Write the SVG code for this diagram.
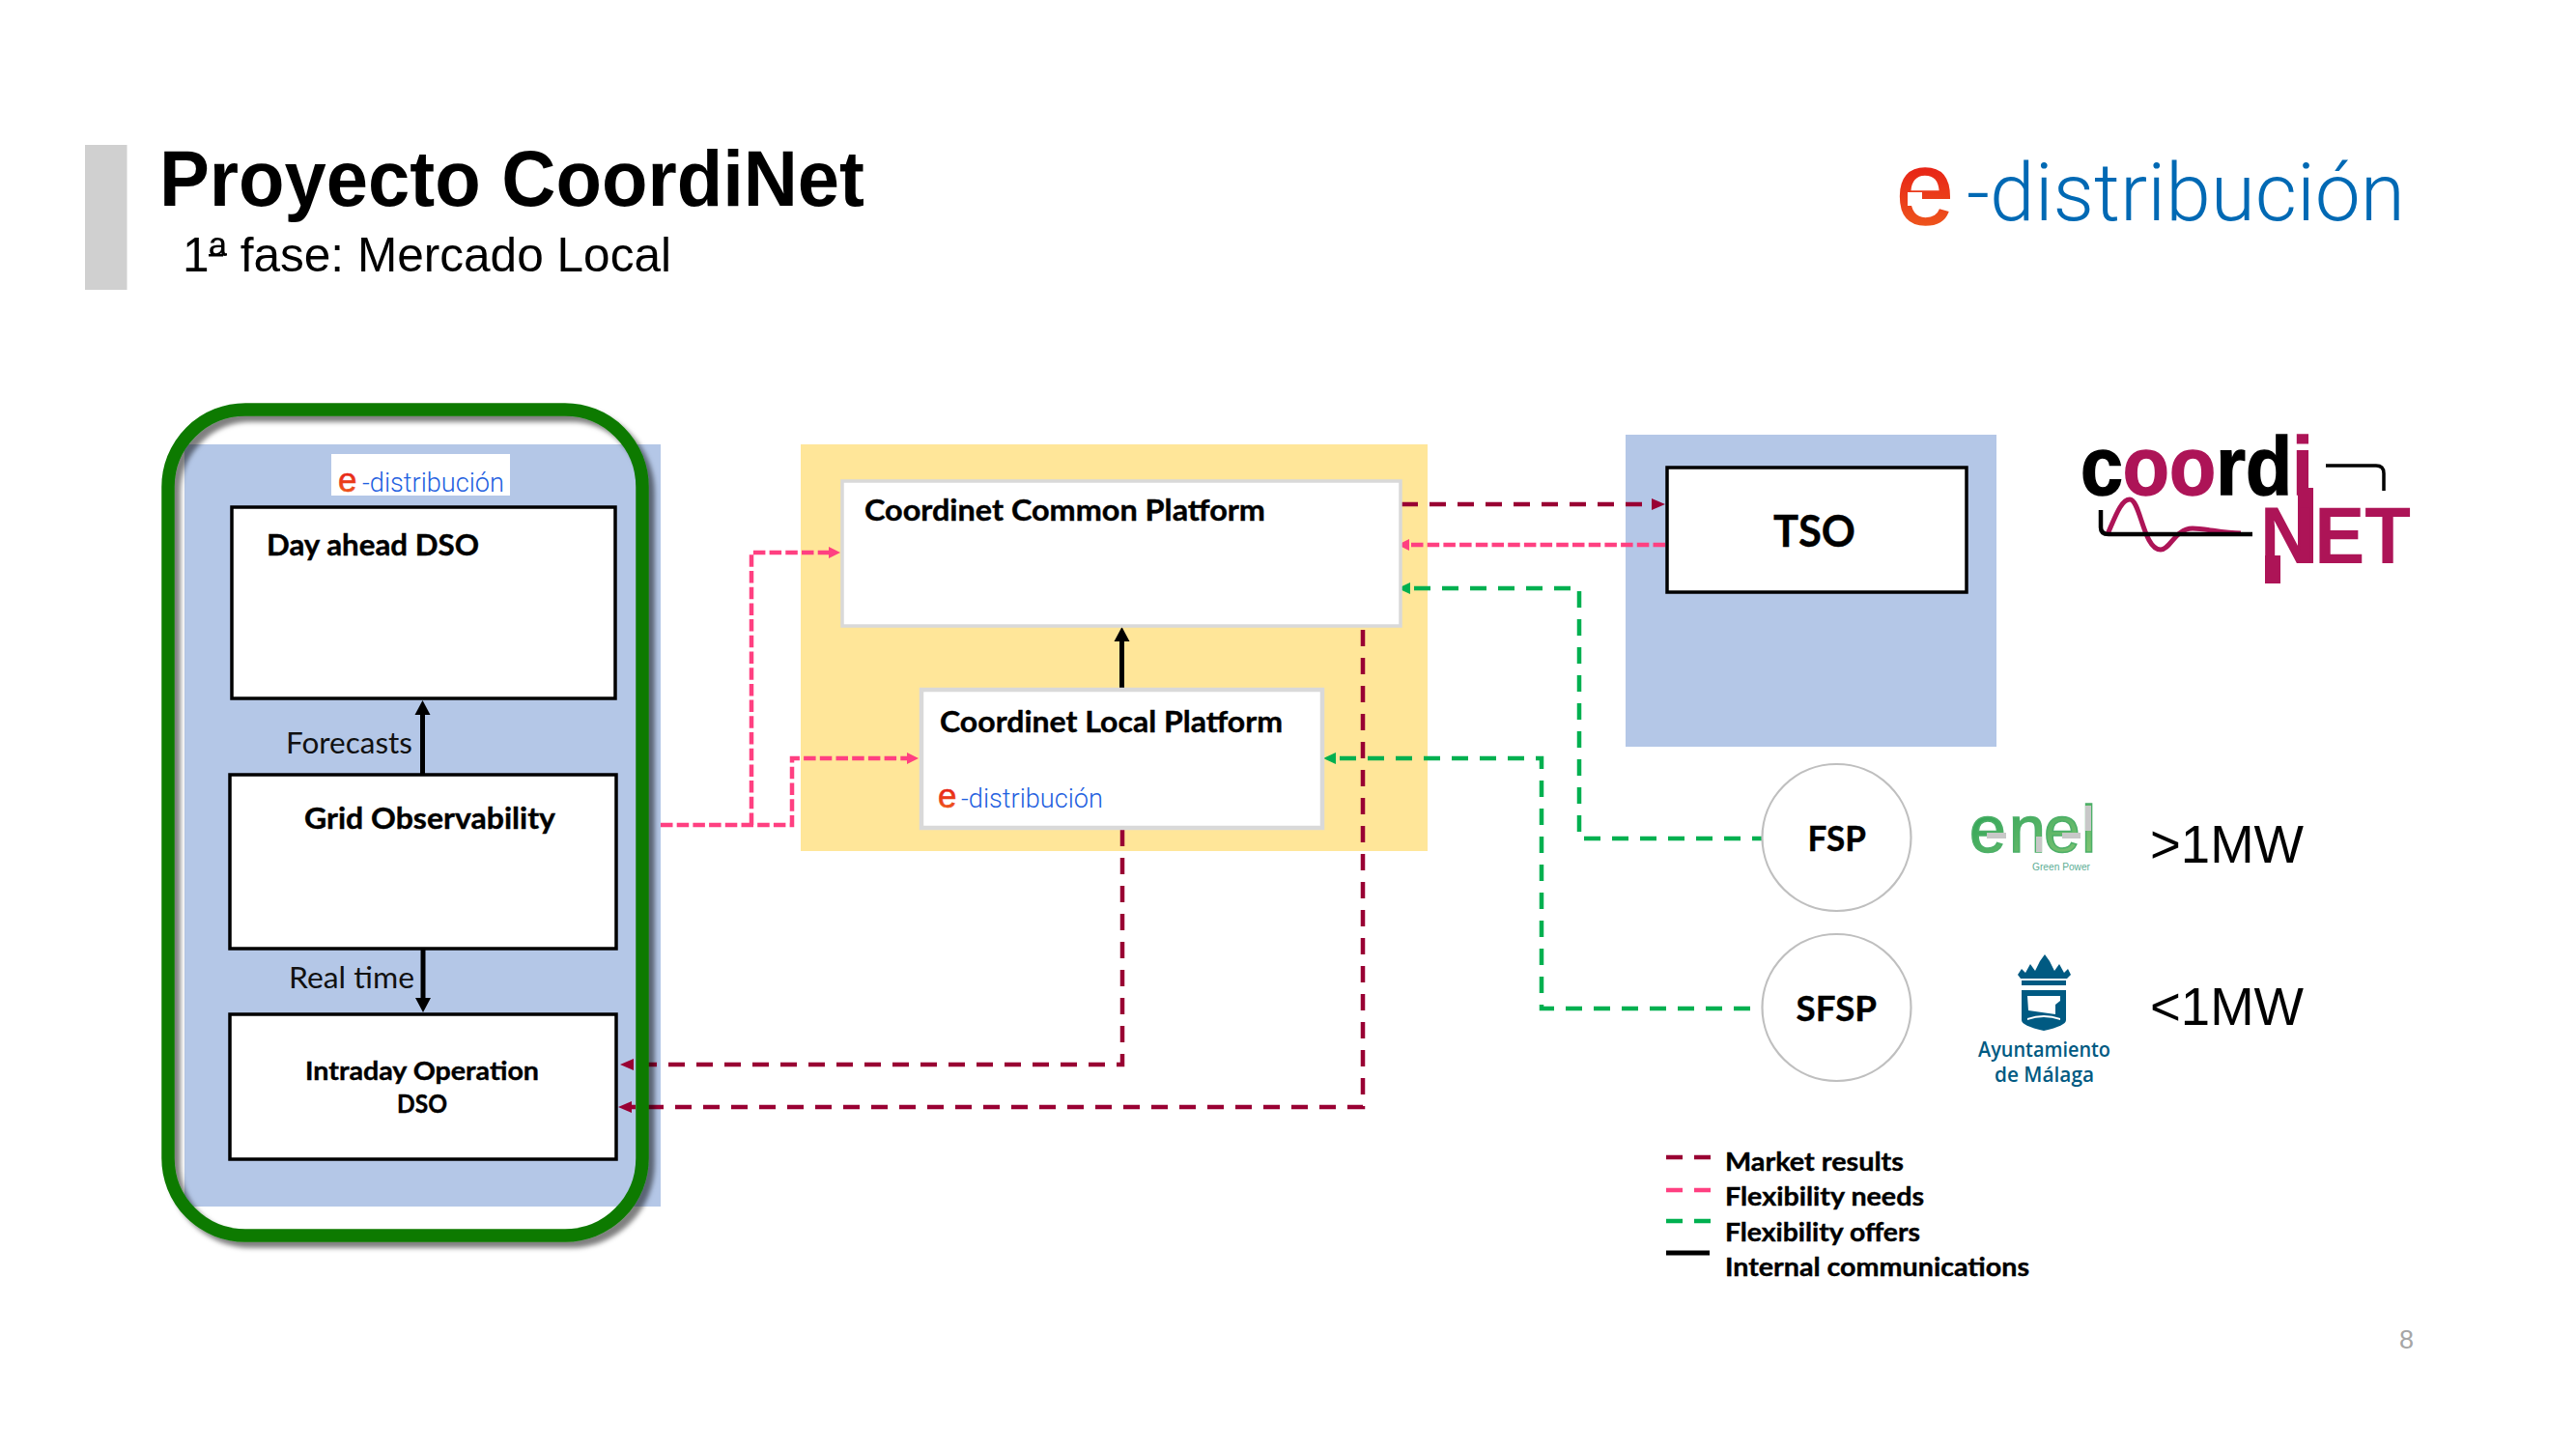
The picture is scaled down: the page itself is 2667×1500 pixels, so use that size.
<svg xmlns="http://www.w3.org/2000/svg" width="2667" height="1500" viewBox="0 0 2667 1500">
<style>
.s{font-family:"Liberation Sans",Arial,sans-serif}
.l{font-family:Lato,"Liberation Sans",sans-serif;font-weight:700;fill:#000;stroke:#000;stroke-width:.4}
.r{font-family:Lato,"Liberation Sans",sans-serif;font-weight:400;fill:#111}
.box{fill:#fff;stroke:#000;stroke-width:3.5}
.gbox{fill:#fff;stroke:#D9D9D9}
.panel-blue{fill:#B4C7E7}
.panel-yellow{fill:#FFE699}
.circ{fill:#fff;stroke:#BFBFBF;stroke-width:2.2}
.mr,.fn,.fo{fill:none;stroke-width:4.5}
.mr{stroke:#990033;stroke-dasharray:17 12}
.fn{stroke:#FF4081;stroke-dasharray:12.5 4.2}
.fo{stroke:#00B050;stroke-dasharray:17 12}
.ic{fill:none;stroke:#000;stroke-width:5}
.ed{font-family:Roboto,"Liberation Sans",sans-serif;font-weight:300}
.logo{font-family:"Liberation Sans",Arial,sans-serif;font-weight:700}
.m{fill:#AD1457}
</style>
<defs>
<marker id="aR" markerUnits="userSpaceOnUse" markerWidth="16" markerHeight="14" refX="2" refY="7" orient="auto"><path d="M0,1 L14,7 L0,13 z" fill="#990033"/></marker>
<marker id="aP" markerUnits="userSpaceOnUse" markerWidth="14" markerHeight="14" refX="2" refY="7" orient="auto"><path d="M0,1 L12,7 L0,13 z" fill="#FF4081"/></marker>
<marker id="aG" markerUnits="userSpaceOnUse" markerWidth="15" markerHeight="14" refX="2" refY="7" orient="auto"><path d="M0,1 L13,7 L0,13 z" fill="#00B050"/></marker>
<marker id="aK" markerUnits="userSpaceOnUse" markerWidth="17" markerHeight="18" refX="2" refY="9" orient="auto"><path d="M0,1 L15,9 L0,17 z" fill="#000"/></marker>
<linearGradient id="eg" x1="0" y1="0" x2="0" y2="1"><stop offset="0" stop-color="#E30613"/><stop offset="1" stop-color="#F0641E"/></linearGradient>
<linearGradient id="en" x1="0" y1="0" x2="1" y2="1"><stop offset="0" stop-color="#1E9E50"/><stop offset="1" stop-color="#8CC878"/></linearGradient>
<filter id="sh" x="-10%" y="-10%" width="120%" height="120%"><feDropShadow dx="6" dy="6" stdDeviation="2.5" flood-color="#000" flood-opacity="0.5"/></filter>
</defs>
<rect width="2667" height="1500" fill="#fff"/>

<g id="header">
<rect x="88" y="150" width="43.500" height="150" fill="#D0D0D0"/>
<text class="s" x="165" y="213" font-size="81" font-weight="700" textLength="730" lengthAdjust="spacingAndGlyphs">Proyecto CoordiNet</text>
<text class="s" x="189" y="281" font-size="50" textLength="506" lengthAdjust="spacingAndGlyphs">1ª fase: Mercado Local</text>
<rect x="216" y="263" width="15" height="2.500" fill="#000"/>
</g>
<g id="logo-e-distribucion">
<text class="s" x="1963" y="232" font-size="108" font-weight="400" fill="url(#eg)" stroke="url(#eg)" stroke-width="1.500">e</text>
<rect x="1975" y="199" width="15" height="14" fill="#fff"/>
<text class="ed" x="2036" y="228" font-size="83" fill="#0069B4" textLength="454" lengthAdjust="spacingAndGlyphs">-distribución</text>
</g>

<g id="panels">
<rect class="panel-blue" x="191" y="460" width="493" height="789"/>
<rect class="panel-yellow" x="829" y="460" width="649" height="421"/>
<rect class="panel-blue" x="1683" y="450" width="384" height="323"/>
</g>

<g id="connectors">
<path class="fn" d="M684,854 H820 V785 H941" marker-end="url(#aP)"/>
<path class="fn" d="M778,854 V572 H860" marker-end="url(#aP)"/>
<path class="mr" d="M1451,522 H1712" marker-end="url(#aR)"/>
<path class="fn" d="M1724,564 H1457" marker-end="url(#aP)"/>
<path class="fo" d="M1824,868 H1635 V609 H1458" marker-end="url(#aG)" stroke-dashoffset="7"/>
<path class="fo" d="M1824,1044 H1596 V785 H1381" marker-end="url(#aG)" stroke-dashoffset="17"/>
<path class="mr" d="M1162,859 V1102 H654" marker-end="url(#aR)"/>
<path class="mr" d="M1411,652 V1146 H652" marker-end="url(#aR)"/>
<path class="ic" d="M437.500,802 V738" marker-end="url(#aK)"/>
<path class="ic" d="M438,982 V1035" marker-end="url(#aK)"/>
<path class="ic" d="M1161.500,714 V662" marker-end="url(#aK)"/>
</g>

<g id="dso-frame">
<rect x="174" y="424" width="491" height="855" rx="80" ry="80" fill="none" stroke="#0F7A03" stroke-width="13.500" filter="url(#sh)"/>
</g>

<g id="dso-logo">
<rect x="343" y="470" width="185" height="43" fill="#fff"/>
<text class="s" x="350" y="509" font-size="35" fill="url(#eg)" stroke="url(#eg)" stroke-width=".6">e</text>
<text class="ed" x="375" y="509" font-size="27" fill="#1F5FE0" textLength="147" lengthAdjust="spacingAndGlyphs">-distribución</text>
</g>

<g id="day-ahead">
<rect class="box" x="240" y="525" width="397" height="198"/>
<text class="l" x="276" y="575" font-size="30" textLength="220" lengthAdjust="spacingAndGlyphs">Day ahead DSO</text>
</g>
<g id="grid-observability">
<rect class="box" x="238" y="802" width="400" height="180"/>
<text class="l" x="315" y="858" font-size="30" textLength="260" lengthAdjust="spacingAndGlyphs">Grid Observability</text>
</g>
<g id="intraday">
<rect class="box" x="238" y="1050" width="400" height="150"/>
<text class="l" x="316" y="1118" font-size="27" textLength="242" lengthAdjust="spacingAndGlyphs">Intraday Operation</text>
<text class="l" x="411" y="1152" font-size="27" textLength="52" lengthAdjust="spacingAndGlyphs">DSO</text>
</g>
<text class="r" x="296" y="780" font-size="30" textLength="131" lengthAdjust="spacingAndGlyphs">Forecasts</text>
<text class="r" x="299" y="1023" font-size="30" textLength="130" lengthAdjust="spacingAndGlyphs">Real time</text>

<g id="common-platform">
<rect class="gbox" x="872" y="498" width="578" height="150" stroke-width="3.500"/>
<text class="l" x="895" y="539" font-size="30" textLength="415" lengthAdjust="spacingAndGlyphs">Coordinet Common Platform</text>
</g>
<g id="local-platform">
<rect class="gbox" x="954" y="714" width="415" height="143" stroke-width="4.500"/>
<text class="l" x="973" y="758" font-size="31" textLength="355" lengthAdjust="spacingAndGlyphs">Coordinet Local Platform</text>
<text class="s" x="971" y="836" font-size="35" fill="url(#eg)" stroke="url(#eg)" stroke-width=".6">e</text>
<text class="ed" x="995" y="836" font-size="27" fill="#1F5FE0" textLength="147" lengthAdjust="spacingAndGlyphs">-distribución</text>
</g>
<g id="tso">
<rect class="box" x="1726" y="484" width="310" height="129"/>
<text class="l" x="1836" y="566" font-size="46" textLength="85" lengthAdjust="spacingAndGlyphs">TSO</text>
</g>
<g id="fsp">
<ellipse class="circ" cx="1901.500" cy="867" rx="77" ry="76"/>
<text class="l" x="1871.500" y="881" font-size="37" textLength="60.500" lengthAdjust="spacingAndGlyphs">FSP</text>
</g>
<g id="sfsp">
<ellipse class="circ" cx="1901.500" cy="1043" rx="77" ry="76"/>
<text class="l" x="1859.500" y="1057" font-size="37" textLength="83.500" lengthAdjust="spacingAndGlyphs">SFSP</text>
</g>

<g id="logo-coordinet">
<text class="logo" x="2154" y="512" font-size="86" textLength="241" lengthAdjust="spacingAndGlyphs" stroke="#000" stroke-width="1.500"><tspan>c</tspan><tspan class="m" stroke="#AD1457">oo</tspan><tspan>rd</tspan><tspan class="m" stroke="#AD1457">i</tspan></text>
<rect class="m" x="2379" y="505" width="16" height="78"/>
<text class="logo m" x="2340" y="583" font-size="84" textLength="156" lengthAdjust="spacingAndGlyphs">NET</text>
<rect class="m" x="2345" y="575" width="16" height="29"/>
<path d="M2182,553 C2190,535 2196,517 2205,517 C2216,517 2219,569 2237,569 C2247,569 2252,547 2270,547 C2285,547 2300,552 2320,552" fill="none" stroke="#AD1457" stroke-width="5"/>
<path d="M2175,528 V546 Q2175,553 2183,553 H2332" fill="none" stroke="#000" stroke-width="4.500"/>
<path d="M2408,482 H2460 Q2468,482 2468,490 V508" fill="none" stroke="#000" stroke-width="3.500"/>
</g>

<g id="logo-enel">
<text class="s" x="2039 2080 2116 2155" y="882" font-size="68" fill="url(#en)" stroke="#4CAF68" stroke-width="1.500">enel</text>
<g fill="#C8C8C8">
<rect x="2057" y="862" width="20" height="6"/>
<rect x="2108" y="866" width="6" height="16"/>
<rect x="2135" y="862" width="19" height="6"/>
<rect x="2159" y="834" width="6" height="26"/>
</g>
<text class="s" x="2104" y="901" font-size="11.500" fill="#5DAE95" textLength="60" lengthAdjust="spacingAndGlyphs">Green Power</text>
</g>
<text class="s" x="2226" y="893" font-size="56" fill="#000" textLength="159" lengthAdjust="spacingAndGlyphs">&gt;1MW</text>
<text class="s" x="2226" y="1061" font-size="56" fill="#000" textLength="159" lengthAdjust="spacingAndGlyphs">&lt;1MW</text>

<g id="logo-malaga" fill="#005A82">
<path d="M2089,1009 L2093,1003 L2097,1007 L2102,998 L2107,1005 L2112,995 L2117,988 L2122,995 L2127,1005 L2132,998 L2137,1007 L2141,1003 L2144,1009 L2140,1013 H2092 z"/>
<rect x="2093" y="1015" width="46" height="5"/>
<path d="M2093,1025 H2139 V1056 Q2139,1062 2116,1067 Q2093,1062 2093,1056 z"/>
<path d="M2099,1031 H2133 V1036 L2128,1040 V1050 L2100,1046 z" fill="#fff"/>
<path d="M2099,1054 Q2116,1048 2133,1054 V1056 Q2116,1050 2099,1056 z" fill="#fff"/>
<text x="2116.500" y="1094" text-anchor="middle" font-family="'Open Sans','Liberation Sans',sans-serif" font-weight="600" font-size="21" textLength="137" lengthAdjust="spacingAndGlyphs">Ayuntamiento</text>
<text x="2116.500" y="1120" text-anchor="middle" font-family="'Open Sans','Liberation Sans',sans-serif" font-weight="600" font-size="21" textLength="103" lengthAdjust="spacingAndGlyphs">de Málaga</text>
</g>

<g id="legend">
<path class="mr" d="M1725,1198 H1771" style="stroke-dasharray:17 12"/>
<path class="fn" d="M1725,1232 H1771" style="stroke-dasharray:17 12"/>
<path class="fo" d="M1725,1264 H1771"/>
<path d="M1725,1297 H1770" stroke="#000" stroke-width="5" fill="none"/>
<text class="l" x="1786" y="1212" font-size="26" textLength="185" lengthAdjust="spacingAndGlyphs">Market results</text>
<text class="l" x="1786" y="1248" font-size="26" textLength="206" lengthAdjust="spacingAndGlyphs">Flexibility needs</text>
<text class="l" x="1786" y="1285" font-size="26" textLength="202" lengthAdjust="spacingAndGlyphs">Flexibility offers</text>
<text class="l" x="1786" y="1321" font-size="26" textLength="315" lengthAdjust="spacingAndGlyphs">Internal communications</text>
</g>
<text class="s" x="2484" y="1396" font-size="27" fill="#A6A6A6">8</text>
</svg>
